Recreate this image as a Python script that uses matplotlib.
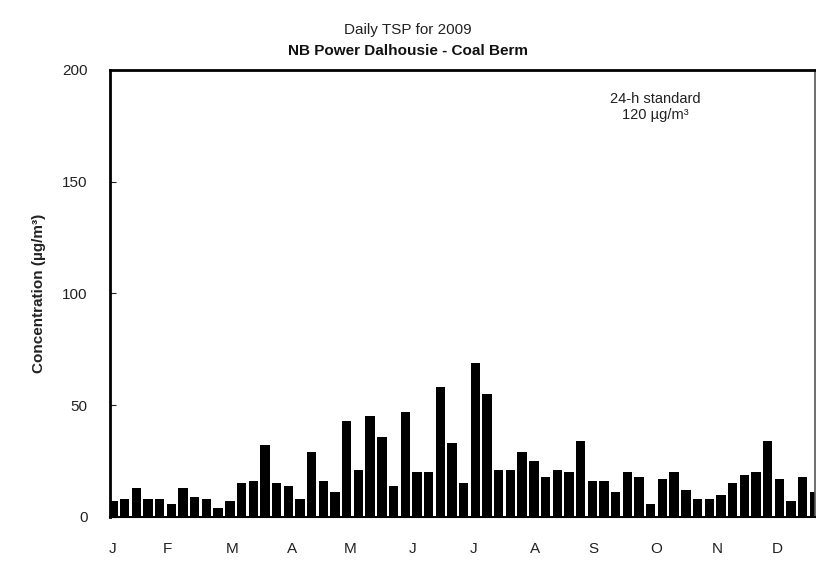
import numpy as np
import matplotlib
matplotlib.use("Agg")
import matplotlib.pyplot as plt

plt.rcParams['font.family'] = ['Liberation Sans', 'DejaVu Sans']

# TSP values every 6 days in 2009 (ug/m3)
tsp = [7, 8, 13, 8, 8, 6, 13, 9, 8, 4,
       7, 15, 16, 32, 15, 14, 8, 29, 16, 11,
       43, 21, 45, 36, 14, 47, 20, 20, 58, 33,
       15, 69, 55, 21, 21, 29, 25, 18, 21, 20,
       34, 16, 16, 11, 20, 18, 6, 17, 20, 12,
       8, 8, 10, 15, 19, 20, 34, 17, 7, 18,
       11]
months = ['J', 'F', 'M', 'A', 'M', 'J', 'J', 'A', 'S', 'O', 'N', 'D']
month_pos = [0, 4.7, 10.2, 15.3, 20.3, 25.6, 30.8, 36.1, 41.1, 46.5, 51.7, 56.8]

fig = plt.figure(figsize=(8.16, 5.68), dpi=100)
ax = fig.add_axes([0.1348, 0.0898, 0.864, 0.787])

x = np.arange(len(tsp))
ax.bar(x, tsp, width=0.8, color='black', zorder=2)

ax.set_xlim(-0.25, 60.05)
ax.set_ylim(0, 200)
ax.set_yticks([0, 50, 100, 150, 200])
ax.tick_params(axis='y', direction='in', length=4, labelsize=11, colors='#222222', pad=16)
ax.set_xticks(month_pos)
ax.set_xticklabels(months)
ax.tick_params(axis='x', length=0, labelsize=11, colors='#222222', pad=18)

for s in ['left', 'top']:
    ax.spines[s].set_linewidth(2)
ax.spines['bottom'].set_linewidth(1.5)
ax.spines['right'].set_linewidth(1.2)
ax.spines['right'].set_color('#555555')

ax.set_ylabel('Concentration (µg/m³)', fontsize=11, fontweight='bold',
              color='#222222', labelpad=12)

fig.text(0.5, 0.948, 'Daily TSP for 2009', ha='center', va='center',
         fontsize=11, color='#222222')
fig.text(0.5, 0.91, 'NB Power Dalhousie - Coal Berm', ha='center', va='center',
         fontsize=11, fontweight='bold', color='#111111')

ax.text(0.773, 0.95, '24-h standard\n120 µg/m³', transform=ax.transAxes,
        ha='center', va='top', fontsize=10.5, color='#222222', linespacing=1.15)

fig.savefig('out.png', dpi=100)
